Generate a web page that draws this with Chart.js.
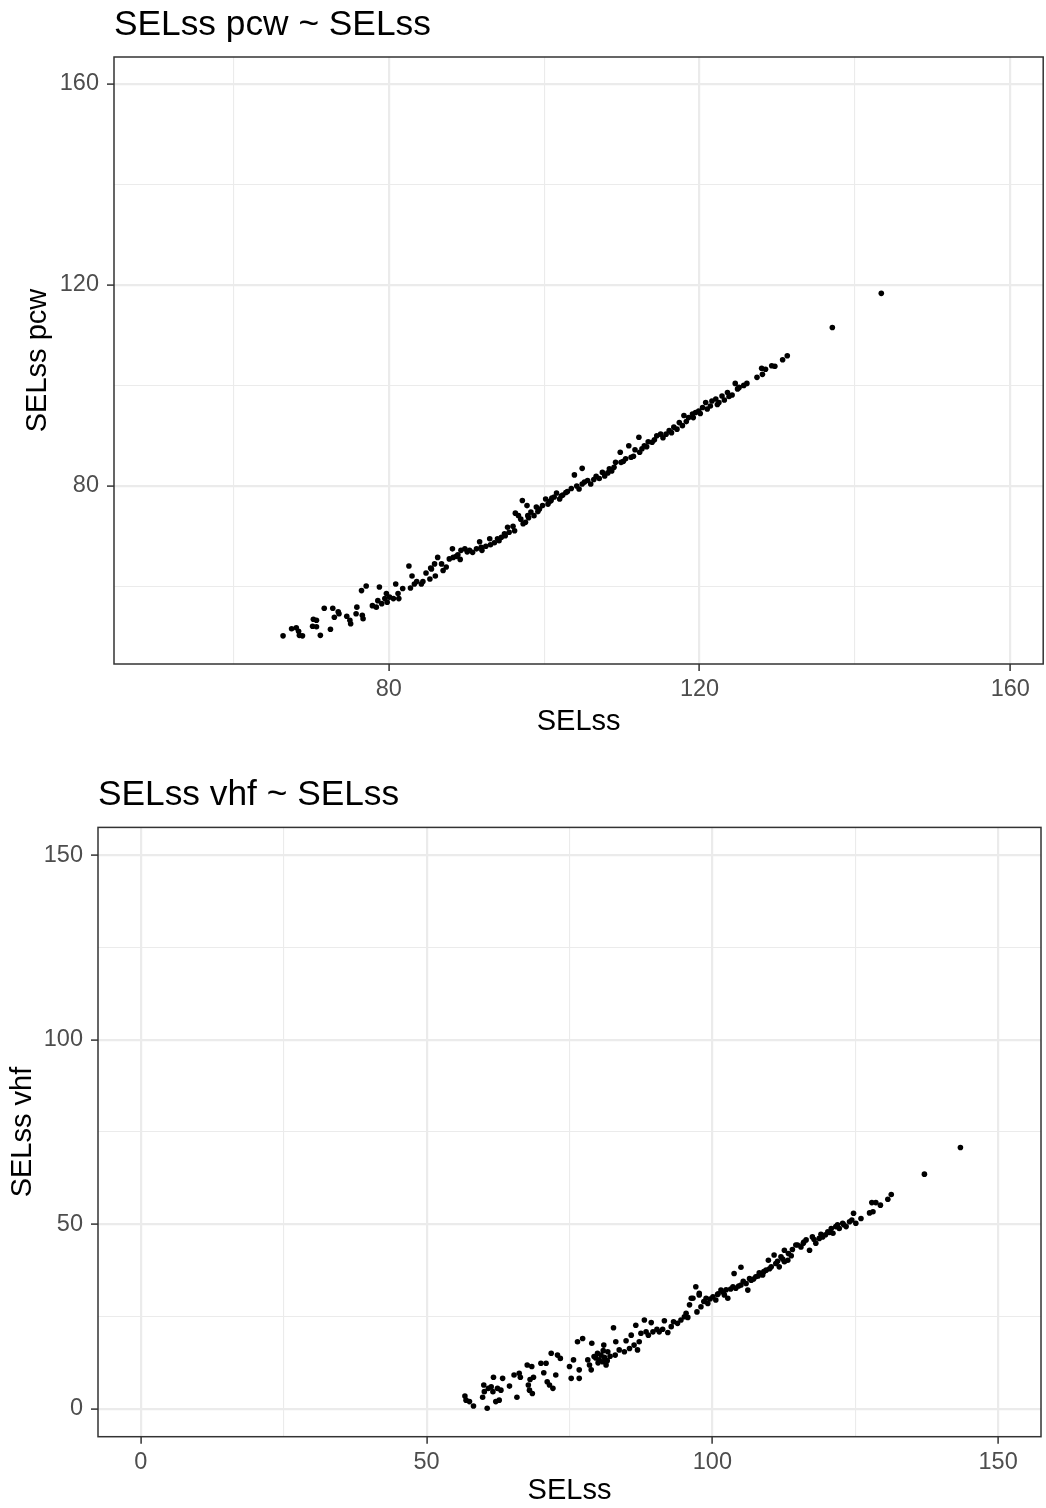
<!DOCTYPE html>
<html><head><meta charset="utf-8">
<script src="https://cdn.jsdelivr.net/npm/chart.js@4/dist/chart.umd.min.js"></script>
<style>
html,body{margin:0;padding:0;background:#fff;}
#w1{position:absolute;left:0;top:0;width:1046px;height:754px;}
#w2{position:absolute;left:0;top:754px;width:1046px;height:754px;}
</style></head><body>
<div id="w1"><canvas id="c1" width="1046" height="754"></canvas></div>
<div id="w2"><canvas id="c2" width="1046" height="754"></canvas></div>
<script>
// ---- data: SELss pcw ~ SELss ----
const pcwX = [66.4,67.5,68.1,68.4,68.5,68.9,70.3,70.7,70.2,70.7,71.2,71.7,72.5,72.8,73.0,73.5,73.6,74.6,75.0,75.1,75.8,75.9,76.6,76.7,76.5,77.1,77.9,78.4,78.6,78.8,79.1,79.5,79.7,79.8,80.1,80.6,80.9,81.2,81.3,81.8,82.6,82.8,83.0,83.3,83.6,84.2,84.4,84.8,85.3,85.4,85.9,86.0,86.3,
85.5,86.8,87.0,87.4,87.8,88.2,88.3,88.7,89.3,89.2,89.8,90.4,90.8,91.3,91.7,92.0,92.5,93.0,93.1,93.6,94.2,94.5,94.9,95.3,95.5,96.2,96.3,96.7,97.0,97.2,97.3,97.6,97.8,97.9,98.3,98.7,99.0,99.4,99.8,100.2,100.5,100.9,101.3,101.6,102.0,102.4,102.8,
103.5,103.9,104.5,104.9,104.9,105.6,106.0,106.7,107.1,107.5,108.2,108.4,109.0,109.2,109.8,109.9,110.5,110.9,111.2,111.7,112.2,112.3,112.9,113.4,113.9,114.5,115.0,115.7,116.1,116.7,117.4,117.8,118.6,119.5,
99.2,100.7,103.0,104.2,105.2,106.4,107.8,108.7,110.2,111.5,112.6,113.2,114.2,115.3,116.4,117.1,118.3,119.2,120.1,121.0,122.3,123.2,124.2,
88.9,90.1,91.9,94.0,95.0,96.0,98.0,101.0,102.2,
118.0,119.1,119.9,120.4,120.8,121.4,121.6,122.1,122.5,122.9,123.6,123.8,124.6,124.9,125.1,125.7,126.1,127.4,128.1,128.0,128.5,129.3,129.7,130.7,131.3,137.1,143.4];
const pcwY = [50.2,51.6,51.8,51.1,50.3,50.2,53.5,53.3,52.1,52.0,50.3,55.7,51.5,55.7,53.9,55.0,54.6,54.1,53.3,52.6,54.6,55.9,54.3,53.6,59.2,60.1,56.2,55.9,57.2,59.9,56.6,57.6,58.6,56.9,57.9,57.6,60.5,58.6,57.6,59.6,64.1,59.7,62.1,60.5,61.0,60.5,61.0,62.7,61.5,63.7,64.5,62.1,65.8,
63.5,64.5,63.2,63.9,65.5,67.5,65.8,66.0,67.2,65.4,67.5,67.2,66.8,67.5,68.9,67.2,68.0,69.5,68.3,68.7,69.1,69.8,70.5,71.8,70.8,71.1,74.6,74.1,73.4,77.1,72.5,72.8,76.1,74.1,74.8,74.1,75.8,75.4,76.1,77.4,76.4,77.1,77.8,78.6,77.4,78.2,78.7,
79.5,82.2,79.4,83.5,80.4,81.1,80.4,81.9,81.5,82.7,82.6,83.4,83.7,84.7,86.7,84.7,85.4,88.0,85.7,87.2,89.7,86.7,88.0,88.8,88.7,90.0,90.3,90.3,91.0,91.7,92.6,92.0,93.6,94.6,
74.9,76.9,78.9,80.0,80.8,81.3,82.0,83.0,84.9,85.9,87.4,87.8,89.2,89.6,90.6,91.3,92.8,93.6,94.4,95.3,96.2,97.1,98.1,
66.3,66.9,67.8,69.5,70.1,72.0,73.7,77.6,78.0,
94.0,94.3,94.9,95.6,96.6,95.9,96.9,97.3,96.6,97.9,98.6,97.8,100.4,99.3,99.6,100.0,100.4,101.6,102.2,103.4,103.2,103.9,103.8,105.1,105.9,111.5,118.3];

// ---- data: SELss vhf ~ SELss ----
const vhfX = [56.7,56.9,57.5,58.2,59.8,60.0,60.1,60.6,60.8,61.3,61.6,61.7,62.1,62.4,62.7,63.0,63.3,64.5,65.3,65.8,66.2,66.4,67.6,67.8,68.0,68.1,68.4,68.5,68.7,70.0,70.5,70.9,71.1,71.5,72.1,71.8,72.6,72.9,73.4,75.0,75.3,75.7,76.4,76.7,
77.3,76.7,78.2,78.5,78.8,78.9,79.3,79.9,80.2,80.5,80.8,81.0,81.1,81.4,81.7,82.7,83.0,83.1,83.7,84.6,84.9,85.5,85.8,86.3,86.6,86.9,87.2,87.5,88.1,88.4,88.8,89.3,89.6,90.3,90.7,91.3,91.6,92.2,92.8,93.2,93.9,94.5,95.4,95.7,96.3,97.1,97.3,97.7,
95.1,96.0,96.6,97.7,98.0,98.9,99.2,100.1,100.6,101.5,102.1,102.7,103.6,103.8,104.1,105.0,105.0,105.9,106.2,106.8,107.6,108.2,108.8,109.4,109.8,110.3,110.8,111.1,111.7,112.0,112.6,113.3,114.0,114.9,
112.6,113.2,114.6,115.5,116.4,117.0,117.5,118.1,118.7,119.3,120.2,120.8,121.1,121.6,122.2,122.8,123.4,124.0,124.7,125.1,126.0,127.5,128.1,127.9,128.6,129.4,130.7,131.3,137.1,143.4,
79.6,80.0,80.9,81.6,82.1,98.5,99.6,100.9,101.9,102.4,104.6,107.2,110.0,113.8,115.9,119.8,121.9,
101.0,103.2,105.4,106.5,108.0,109.0,111.4,112.3,116.0,117.8,119.0,120.5,123.0,124.4];
const vhfY = [3.5,2.4,2.0,0.8,3.2,6.5,4.7,0.2,5.6,6.0,4.7,8.6,2.0,5.6,2.4,5.1,8.3,6.2,9.2,3.2,9.7,8.6,11.9,6.5,5.1,8.0,11.5,4.2,8.6,12.4,9.8,12.4,7.4,6.5,5.6,15.1,9.2,14.6,13.7,11.5,8.3,13.3,18.2,10.6,
19.1,8.3,13.3,11.9,10.6,17.8,14.2,15.1,13.3,14.6,12.8,17.3,14.0,11.9,15.5,22.0,14.6,18.2,16.0,15.5,18.5,16.4,20.0,17.3,22.7,16.0,18.2,20.5,24.1,20.9,20.0,23.4,20.9,21.6,20.9,21.6,23.9,20.7,22.3,23.6,23.2,24.1,25.9,24.8,30.0,33.1,26.3,30.9,
25.0,28.2,30.0,31.3,27.7,30.0,28.6,30.4,29.5,32.2,30.9,30.0,33.1,36.7,32.7,38.4,33.6,34.0,32.2,34.9,35.8,36.9,36.3,37.6,40.3,38.5,41.7,39.4,38.5,41.2,39.9,42.1,43.2,44.4,
43.0,40.3,44.4,43.9,45.8,43.0,46.6,44.9,46.2,46.6,48.0,48.9,47.6,49.4,48.9,50.3,49.4,50.7,53.0,50.3,51.6,53.1,53.4,55.9,55.9,55.2,56.8,58.1,63.6,70.8,
13.8,12.5,15.8,13.1,14.3,29.1,29.8,31.0,31.6,32.3,33.3,35.2,38.0,41.5,44.9,47.2,49.9,
31.2,32.5,34.6,35.3,36.0,37.2,40.0,40.6,45.2,45.9,47.3,47.8,49.9,51.2];

// ---- tick / text settings ----
const topTicks = [60, 80, 100, 120, 140, 160];
const topLabels = [80, 120, 160];
const botTicks = [0, 25, 50, 75, 100, 125, 150];
const botLabels = [0, 50, 100, 150];
const chartTitles = ['SELss pcw ~ SELss', 'SELss vhf ~ SELss'];
const xTitle = 'SELss';
const yTitles = ['SELss pcw', 'SELss vhf'];

const FONT = "'Liberation Sans', Arial, Helvetica, sans-serif";
Chart.defaults.font.family = FONT;

const panelPlugin = {
  id: 'panel',
  afterDraw(chart, args, opts) {
    const {ctx, chartArea: a} = chart;
    ctx.save();
    ctx.strokeStyle = '#333333';
    ctx.lineWidth = 1.5;
    ctx.strokeRect(a.left, a.top, a.right - a.left, a.bottom - a.top);
    ctx.fillStyle = '#000000';
    ctx.font = '35.3px ' + FONT;
    ctx.textAlign = 'left';
    ctx.textBaseline = 'alphabetic';
    ctx.fillText(opts.text, a.left, opts.baseline);
    ctx.restore();
  }
};

function makeScale(ticks, labels, min, max, isX, size, titleText, titlePad) {
  return {
    type: 'linear',
    min: min, max: max,
    afterBuildTicks: (s) => { s.ticks = ticks.map(v => ({value: v})); },
    afterFit: (s) => { if (isX) s.height = size; else s.width = size; },
    ticks: {
      autoSkip: false, maxRotation: 0, minRotation: 0,
      color: '#4D4D4D',
      font: {size: 23.5},
      padding: isX ? 4.5 : 8,
      callback: (v) => labels.includes(v) ? String(v) : ''
    },
    grid: {
      color: '#EBEBEB',
      lineWidth: (c) => (c.tick && labels.includes(c.tick.value)) ? 2.2 : 1.1,
      drawTicks: true,
      tickLength: 7,
      tickWidth: 1.5,
      tickColor: (c) => (c.tick && labels.includes(c.tick.value)) ? '#333333' : 'rgba(0,0,0,0)'
    },
    border: {display: false},
    title: {
      display: true, text: titleText, color: '#000000',
      font: {size: 29},
      padding: isX ? {top: 0, bottom: titlePad} : {top: titlePad, bottom: 0}
    }
  };
}

function makeChart(id, xs, ys, cfg) {
  return new Chart(document.getElementById(id), {
    type: 'scatter',
    data: {datasets: [{
      data: xs.map((x, i) => ({x: x, y: ys[i]})),
      pointRadius: 2.8, pointBackgroundColor: '#000000', pointBorderWidth: 0,
      pointHoverRadius: 2.8
    }]},
    options: {
      responsive: false, animation: false, devicePixelRatio: 1, events: [],
      layout: {padding: cfg.padding},
      plugins: {legend: {display: false}, tooltip: {enabled: false}, title: {display: false},
        panel: {text: cfg.title, baseline: cfg.titleBaseline}},
      scales: {
        x: makeScale(cfg.ticks, cfg.labels, cfg.xmin, cfg.xmax, true, cfg.xH, xTitle, cfg.xPad),
        y: makeScale(cfg.ticks, cfg.labels, cfg.ymin, cfg.ymax, false, cfg.yW, cfg.yTitle, cfg.yPad)
      }
    },
    plugins: [panelPlugin]
  });
}

makeChart('c1', pcwX, pcwY, {
  title: chartTitles[0], titleBaseline: 35, yTitle: yTitles[0],
  ticks: topTicks, labels: topLabels,
  xmin: 44.64, xmax: 164.24, ymin: 44.6, ymax: 165.3,
  padding: {top: 57, right: 1, left: 0, bottom: 0},
  xH: 90, yW: 114, xPad: 14.6, yPad: 20.6
});

makeChart('c2', vhfX, vhfY, {
  title: chartTitles[1], titleBaseline: 51, yTitle: yTitles[1],
  ticks: botTicks, labels: botLabels,
  xmin: -7.5, xmax: 157.5, ymin: -7.5, ymax: 157.5,
  padding: {top: 73.4, right: 5, left: 0, bottom: 0},
  xH: 71.3, yW: 98, xPad: 0, yPad: 5.6
});
</script>
</body></html>
